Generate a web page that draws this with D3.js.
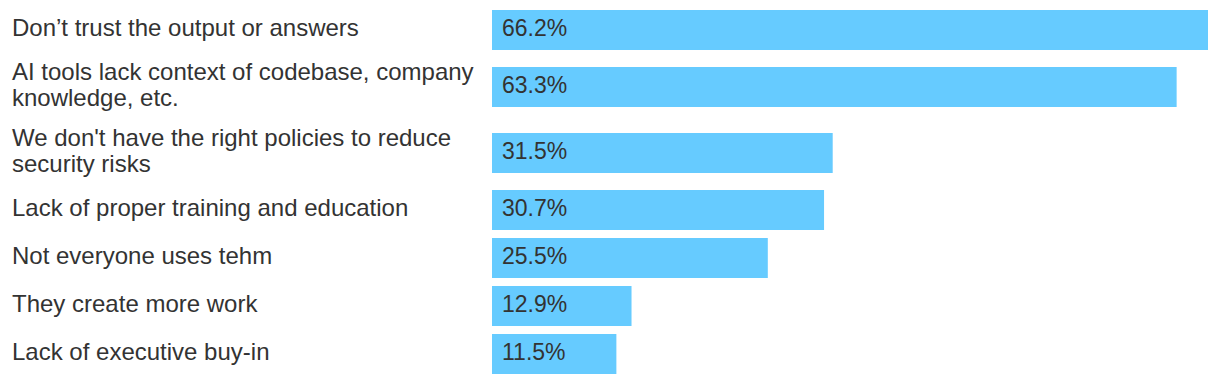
<!DOCTYPE html>
<html lang="en">
  <head>
    <meta charset="utf-8" />
    <script src="https://cdn.jsdelivr.net/npm/d3@7/dist/d3.min.js"></script>
    <style>
      body { margin: 0; background: #fff; }
      .label { font-family: "Liberation Sans", Arial, Helvetica, sans-serif; font-size: 24px; fill: #333; }
      .value { font-family: "Liberation Sans", Arial, Helvetica, sans-serif; font-size: 23px; fill: #333; }
      .bar { fill: #66cbff; }
    </style>
  </head>
  <body>
    <div id="container"></div>

    <script>
      const categories = [
        "Don’t trust the output or answers",
        "AI tools lack context of codebase, company\nknowledge, etc.",
        "We don't have the right policies to reduce\nsecurity risks",
        "Lack of proper training and education",
        "Not everyone uses tehm",
        "They create more work",
        "Lack of executive buy-in"
      ];
      const values = [66.2, 63.3, 31.5, 30.7, 25.5, 12.9, 11.5];

      const width = 1220;
      const height = 384;
      const barX = 492;
      const barH = 40;
      const gap = 8;
      const lineStep = 26.5;

      const svg = d3.select("#container").append("svg").attr("width", width).attr("height", height);

      const x = d3.scaleLinear().domain([0, d3.max(values)]).range([0, 716]);

      // rows grow when the label wraps onto two lines
      const rows = [];
      let y0 = 10;
      categories.forEach((c, i) => {
        const lines = c.split("\n");
        const h = Math.max(barH, lines.length * 29);
        rows.push({ lines, value: values[i], top: y0, h, mid: y0 + h / 2 });
        y0 += h + gap;
      });

      const g = svg.selectAll("g.row").data(rows).enter().append("g").attr("class", "row");

      g.append("rect")
        .attr("class", "bar")
        .attr("x", barX)
        .attr("y", (d) => d.mid - barH / 2)
        .attr("width", (d) => x(d.value))
        .attr("height", barH);

      g.append("text")
        .attr("class", "value")
        .attr("x", barX + 10)
        .attr("y", (d) => d.mid + 6)
        .text((d) => d3.format(".1f")(d.value) + "%");

      g.append("text")
        .attr("class", "label")
        .each(function (d) {
          const t = d3.select(this);
          const first = d.mid + 6 - ((d.lines.length - 1) * lineStep) / 2;
          d.lines.forEach((l, k) => {
            t.append("tspan").attr("x", 12).attr("y", first + k * lineStep).text(l);
          });
        });
    </script>
  </body>
</html>
